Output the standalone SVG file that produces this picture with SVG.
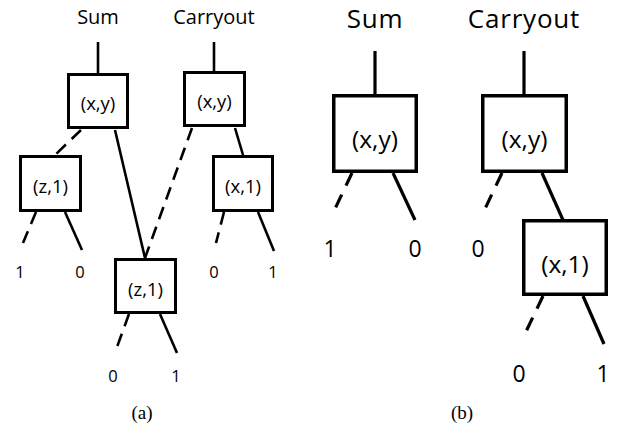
<svg xmlns="http://www.w3.org/2000/svg" width="619" height="431" viewBox="0 0 619 431">
<style>
.bg{fill:#fff}
.box{fill:#fff;stroke:#000;stroke-width:3}
.boxb{fill:#fff;stroke:#000;stroke-width:3.5}
.ln{stroke:#000;stroke-width:2.6;fill:none}
.lnb{stroke:#000;stroke-width:3.2;fill:none}
.da{stroke-dasharray:13 8}
.db{stroke-dasharray:14 10}
.t{font-family:"Open Sans","DejaVu Sans",sans-serif;fill:#000;text-anchor:middle}
.ta{font-size:20px}
.na{font-size:18.5px}
.la{font-size:16.5px}
.tb{font-size:26px;letter-spacing:0.8px}
.nb{font-size:24.5px}
.lb{font-size:23px}
.cap{font-family:"Liberation Serif","Times New Roman",serif;font-size:19px;fill:#000;text-anchor:middle}
</style>
<rect class="bg" x="0" y="0" width="619" height="431"/>
<g id="connectors">
  <!-- (a) -->
  <line class="ln" x1="98" y1="42" x2="98" y2="74"/>
  <line class="ln" x1="214" y1="42" x2="214" y2="72"/>
  <line class="ln da" x1="81" y1="130" x2="55" y2="155"/>
  <line class="ln" x1="115" y1="130" x2="145" y2="258"/>
  <line class="ln da" x1="192" y1="128" x2="145" y2="258"/>
  <line class="ln" x1="235" y1="128" x2="243" y2="155"/>
  <line class="ln da" x1="36" y1="212" x2="23" y2="243"/>
  <line class="ln" x1="65" y1="212" x2="82" y2="250"/>
  <line class="ln da" x1="224" y1="212" x2="216" y2="243"/>
  <line class="ln" x1="258" y1="212" x2="274" y2="251"/>
  <line class="ln da" x1="129" y1="314" x2="117" y2="347"/>
  <line class="ln" x1="160" y1="314" x2="177" y2="353"/>
  <!-- (b) -->
  <line class="lnb" x1="375" y1="51" x2="375" y2="95"/>
  <line class="lnb" x1="524" y1="51" x2="524" y2="95"/>
  <line class="lnb db" x1="352" y1="173" x2="333" y2="213"/>
  <line class="lnb" x1="393" y1="173" x2="415" y2="220"/>
  <line class="lnb db" x1="502" y1="173" x2="483" y2="213"/>
  <line class="lnb" x1="542" y1="173" x2="563" y2="220"/>
  <line class="lnb db" x1="543" y1="296" x2="523" y2="338"/>
  <line class="lnb" x1="583" y1="296" x2="604" y2="344"/>
</g>
<g id="a-sum-label"><text class="t ta" x="98" y="24">Sum</text></g>
<g id="a-carry-label"><text class="t ta" x="214" y="24">Carryout</text></g>
<g id="a-sum-xy">
  <rect class="box" x="68.5" y="74.5" width="59" height="53"/>
  <text class="t na" x="98" y="110">(x,y)</text>
</g>
<g id="a-carry-xy">
  <rect class="box" x="184.5" y="72.5" width="60" height="53"/>
  <text class="t na" x="214.5" y="108">(x,y)</text>
</g>
<g id="a-z1-left">
  <rect class="box" x="20.5" y="156.5" width="60" height="54"/>
  <text class="t na" x="50.5" y="193">(z,1)</text>
</g>
<g id="a-x1-right">
  <rect class="box" x="213.5" y="156.5" width="59" height="54"/>
  <text class="t na" x="243" y="193">(x,1)</text>
</g>
<g id="a-z1-mid">
  <rect class="box" x="115.5" y="259.5" width="60" height="53"/>
  <text class="t na" x="145.5" y="296">(z,1)</text>
</g>
<g id="a-leaves">
  <text class="t la" x="20" y="278">1</text>
  <text class="t la" x="80" y="278">0</text>
  <text class="t la" x="214" y="278">0</text>
  <text class="t la" x="273" y="278">1</text>
  <text class="t la" x="113" y="382">0</text>
  <text class="t la" x="176" y="382">1</text>
</g>
<g id="b-sum-label"><text class="t tb" x="375" y="28">Sum</text></g>
<g id="b-carry-label"><text class="t tb" x="524" y="28">Carryout</text></g>
<g id="b-sum-xy">
  <rect class="boxb" x="333.75" y="95.75" width="82.5" height="75.5"/>
  <text class="t nb" x="375" y="148">(x,y)</text>
</g>
<g id="b-carry-xy">
  <rect class="boxb" x="482.75" y="95.75" width="83.5" height="75.5"/>
  <text class="t nb" x="524.5" y="148">(x,y)</text>
</g>
<g id="b-x1">
  <rect class="boxb" x="523.75" y="220.75" width="82.5" height="73.5"/>
  <text class="t nb" x="565" y="273">(x,1)</text>
</g>
<g id="b-leaves">
  <text class="t lb" x="330" y="257">1</text>
  <text class="t lb" x="415" y="257">0</text>
  <text class="t lb" x="478" y="257">0</text>
  <text class="t lb" x="519" y="382">0</text>
  <text class="t lb" x="603" y="382">1</text>
</g>
<g id="captions">
  <text class="cap" x="142" y="419">(a)</text>
  <text class="cap" x="462" y="419">(b)</text>
</g>
</svg>
